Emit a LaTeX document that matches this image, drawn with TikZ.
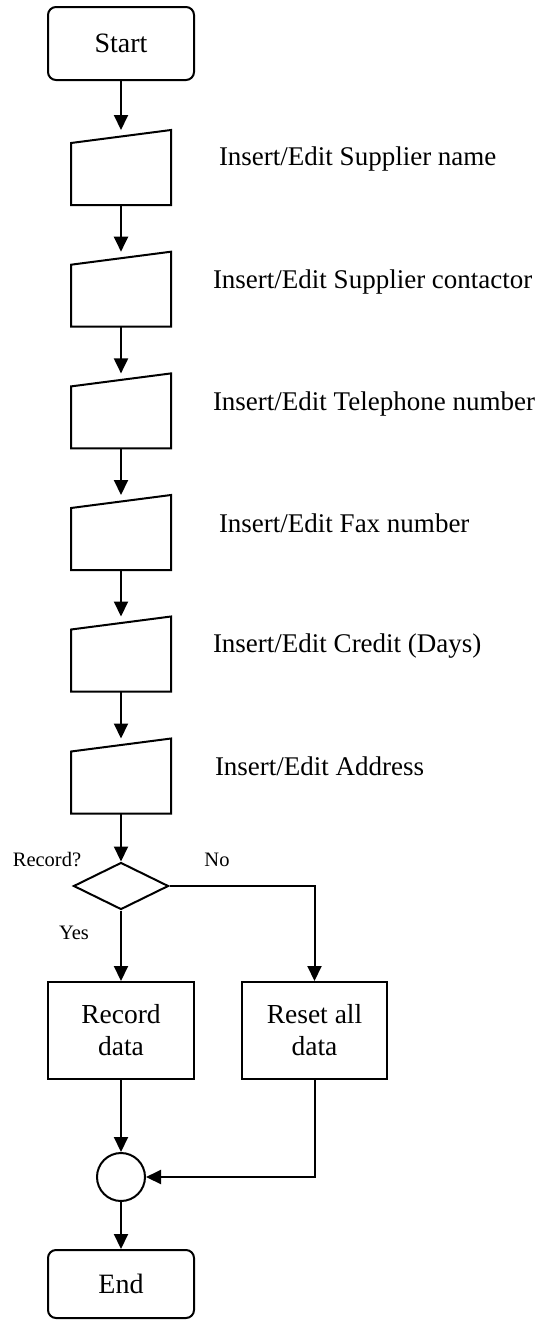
\documentclass[tikz,border=0pt]{standalone}
\usepackage{fontspec}
\setmainfont{Liberation Serif}
\usetikzlibrary{arrows.meta,shapes.geometric,calc}
\begin{document}
\begin{tikzpicture}[x=1pt,y=-1pt,line width=2pt,
  arr/.style={-{Triangle[length=15pt,width=14pt]}},
  term/.style={draw,rounded corners=8pt,minimum width=146pt,inner sep=0pt,font=\fontsize{28}{32}\selectfont},
  proc/.style={draw,minimum height=97pt,inner sep=0pt,align=center,font=\fontsize{27.5}{32}\selectfont},
  mibox/.style={minimum width=98pt,minimum height=73pt,inner sep=0pt},
  lbl/.style={anchor=base west,inner sep=0pt,font=\fontsize{27}{30}\selectfont},
  small/.style={inner sep=0pt,font=\fontsize{20.5}{24}\selectfont},
  dec/.style={draw,diamond,minimum width=95pt,minimum height=47pt,inner sep=0pt,aspect=2},
  joint/.style={draw,circle,minimum size=48pt,inner sep=0pt}
]
\useasboundingbox (0,0) rectangle (539,1320);
\node[term,minimum height=73pt] (start) at (121,43.5) {Start};
\foreach \i/\t in {1/131,2/252.7,3/374.4,4/496,5/617.5,6/739.5}{
  \node[mibox] (m\i) at (121,\t+36.5) {};
  \draw (m\i.south west) -- (m\i.south east) -- (m\i.north east) -- ($(m\i.north west)+(0,13)$) -- cycle;
}
\node[lbl] (l1) at (218,165) {Insert/Edit Supplier name};
\node[lbl] (l2) at (212,288) {Insert/Edit Supplier contactor};
\node[lbl] (l3) at (212,410) {Insert/Edit Telephone number};
\node[lbl] (l4) at (218,532) {Insert/Edit Fax number};
\node[lbl] (l5) at (212,652) {Insert/Edit Credit (Days)};
\node[lbl] (l6) at (214,775) {Insert/Edit Address};
\node[dec] (d) at (121,886) {};
\node[small] (q) at (47,860) {Record?};
\node[small] (no) at (217,860) {No};
\node[small] (yes) at (74,933) {Yes};
\node[proc,minimum width=146pt] (rec) at (121,1030.5) {Record\\data};
\node[proc,minimum width=145pt] (reset) at (314.5,1030.5) {Reset all\\data};
\node[joint] (j) at (121,1177) {};
\node[term,minimum height=68pt] (end) at (121,1284) {End};
\draw[arr] (start.south) -- (m1.north);
\foreach \a/\b in {1/2,2/3,3/4,4/5,5/6}{
  \draw[arr] (m\a.south) -- (m\b.north);
}
\draw[arr] (m6.south) -- (d.north);
\draw[arr] (d.south) -- (rec.north);
\draw[arr] (d.east) -| (reset.north);
\draw[arr] (rec.south) -- (j.north);
\draw[arr] (reset.south) |- (j.east);
\draw[arr] (j.south) -- (end.north);
\end{tikzpicture}
\end{document}
